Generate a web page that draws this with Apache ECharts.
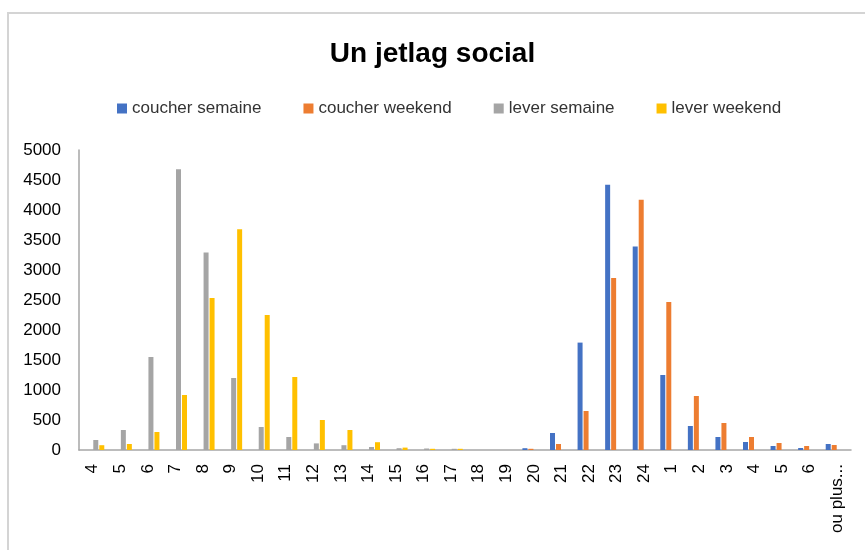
<!DOCTYPE html>
<html>
<head>
<meta charset="utf-8">
<script src="https://cdn.jsdelivr.net/npm/echarts@6/dist/echarts.min.js"></script>
<style>
html,body{margin:0;padding:0;background:#fff;}
#chart{width:865px;height:550px;}
</style>
</head>
<body>
<div id="chart"></div>
<script>
const categories = ['4','5','6','7','8','9','10','11','12','13','14','15','16','17','18','19','20','21','22','23','24','1','2','3','4','5','6','ou plus...'];
const coucherSemaine = [0,0,0,0,0,0,0,0,0,0,0,0,0,0,0,0,30,283,1790,4420,3390,1250,400,217,133,67,33,100];
const coucherWeekend = [0,0,0,0,0,0,0,0,0,0,0,0,0,0,0,0,20,100,650,2867,4170,2467,900,450,217,117,67,83];
const leverSemaine = [167,333,1550,4680,3290,1200,383,217,110,80,50,30,25,20,0,0,0,0,0,0,0,0,0,0,0,0,0,0];
const leverWeekend = [80,100,300,917,2533,3680,2250,1217,500,333,130,40,20,20,0,0,0,0,0,0,0,0,0,0,0,0,0,0];
const yTicks = {min:0, max:5000, interval:500};

const font = 'Liberation Sans';
const chart = echarts.init(document.getElementById('chart'), null, {renderer:'canvas'});
function bar(name, data, color){
  return {name, type:'bar', data, barWidth:5, barGap:'20%',
    itemStyle:{color}, emphasis:{disabled:true}};
}
chart.setOption({
  animation:false,
  graphic:[{type:'polyline', shape:{points:[[8,550],[8,13],[865,13]]},
    style:{stroke:'#d4d4d4', lineWidth:2, fill:null}, silent:true}],
  title:{text:'Un jetlag social', left:'center', top:35,
    textStyle:{fontFamily:font, fontWeight:'bold', fontSize:28, color:'#000'}},
  legend:{top:95, left:112, itemWidth:10, itemHeight:10, itemGap:42,
    icon:'rect', textStyle:{fontFamily:font, fontSize:17, color:'#333'},
    data:['coucher semaine','coucher weekend','lever semaine','lever weekend']},
  grid:{left:79, right:14, top:150, bottom:100, containLabel:false},
  xAxis:{type:'category', data:categories,
    axisLine:{lineStyle:{color:'#a6a6a6', width:1.5}},
    axisTick:{show:false},
    axisLabel:{rotate:90, interval:0, margin:14, fontFamily:font, fontSize:17, color:'#000'}},
  yAxis:{type:'value', min:yTicks.min, max:yTicks.max, interval:yTicks.interval,
    axisLine:{show:true, lineStyle:{color:'#a6a6a6', width:1.5}},
    splitLine:{show:false}, axisTick:{show:false},
    axisLabel:{margin:18, fontFamily:font, fontSize:17, color:'#000', formatter:v=>String(v)}},
  series:[
    bar('coucher semaine', coucherSemaine, '#4472C4'),
    bar('coucher weekend', coucherWeekend, '#ED7D31'),
    bar('lever semaine', leverSemaine, '#A5A5A5'),
    bar('lever weekend', leverWeekend, '#FFC000')
  ]
});
</script>
</body>
</html>
